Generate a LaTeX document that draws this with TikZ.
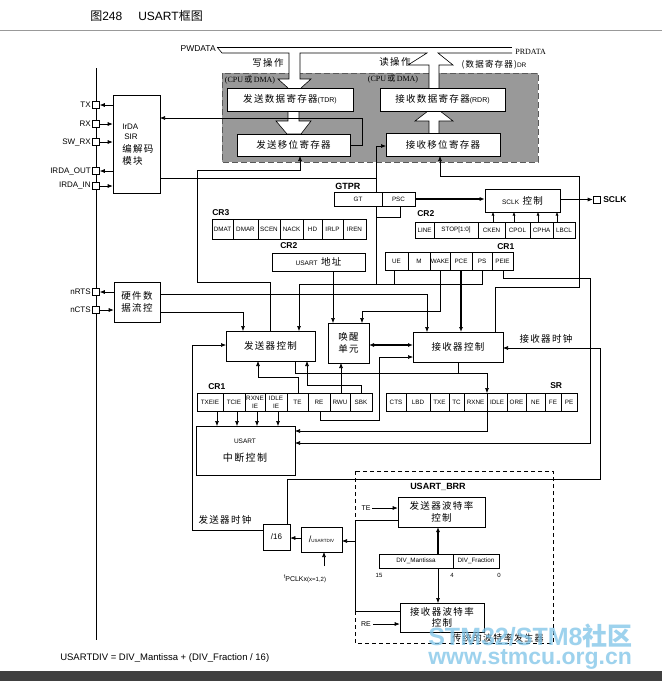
\documentclass[tikz,border=0pt]{standalone}
\usepackage{fontspec}
\setmainfont{Liberation Sans}
\newfontfamily\lat{Liberation Sans}
\newfontfamily\serf{Liberation Serif}
\newfontfamily\cjk[LetterSpace=14]{Noto Sans CJK SC}
\newfontfamily\cjkn{Noto Sans CJK SC}
\usetikzlibrary{arrows.meta}
\newcommand{\myfs}[1]{\fontsize{#1}{\fpeval{1.22*#1}}\selectfont}
\definecolor{grayfill}{gray}{0.6}
\definecolor{wmblue}{RGB}{125,195,232}
\newcommand{\regcell}[6]{\node[cell,minimum width={(#2)-(#1)},minimum height={#4}] (#5) at ({((#1)+(#2))/2},#3) {#6};}
\begin{document}
\begin{tikzpicture}[x=1pt,y=-1pt,line width=0.6pt,
  bx/.style={draw,fill=white,inner sep=0pt,align=center,font=\cjk\myfs{9.5}},
  cell/.style={draw,fill=white,inner sep=0pt,align=center,font=\lat\myfs{6.3}},
  ar/.style={-{Latex[length=5pt,width=4pt]}},
  dar/.style={{Latex[length=5pt,width=4pt]}-{Latex[length=5pt,width=4pt]}},
  sar/.style={-{Latex[length=3.5pt,width=3pt]}},
  thk/.style={line width=1.3pt},
  zh/.style={inner sep=0pt,font=\cjk\myfs{9.5}},
  en/.style={inner sep=0pt,font=\lat\myfs{8}},
  reglabel/.style={inner sep=0pt,anchor=west,font=\lat\bfseries\myfs{8.5}},
  pinsq/.style={draw,fill=white,minimum size=7pt,inner sep=0pt}]
\useasboundingbox (0,0) rectangle (662,681);
\fill[white] (0,0) rectangle (662,681);

% ---------- title ----------
\node[anchor=west,inner sep=0pt,font=\lat\myfs{12}] (title) at (90,16) {{\cjkn 图}248\hspace{16pt}USART{\cjkn 框图}};
\draw[black!40,line width=0.8pt] (0,30) -- (662,30);

% ---------- gray data register region ----------
\draw[fill=grayfill,draw=black!65,line width=0.9pt,dash pattern=on 6pt off 3pt] (222,73) rectangle (538,162);
\node[inner sep=0pt,font=\serf\myfs{8}] (cpu1) at (250,80) {(CPU\,{\cjkn 或}\,DMA)};
\node[inner sep=0pt,font=\serf\myfs{8}] (cpu2) at (393,79) {(CPU\,{\cjkn 或}\,DMA)};

% buses and hollow arrows
\fill[white] (289,72.3) -- (289,79) -- (278,79) -- (288,88) -- (301,88) -- (311,79) -- (300,79) -- (300,72.3) -- cycle;
\fill[white] (429.3,72.3) rectangle (438.7,88);
\draw (217,47) -- (512,47);
\draw (217,47) -- (222,53) -- (289,53) -- (289,79) -- (278,79) -- (288,88);
\draw (301,88) -- (311,79) -- (300,79) -- (300,53) -- (427,53) -- (408,65) -- (429,65) -- (429,88);
\draw (439,88) -- (439,65) -- (453,65) -- (438,53) -- (512,53);
\node[anchor=east,inner sep=0pt,font=\lat\myfs{8.5}] (pw) at (216,49) {PWDATA};
\node[anchor=west,inner sep=0pt,font=\serf\myfs{8}] (pr) at (515,52) {PRDATA};
\node[zh] (wop) at (268,63) {写操作};
\node[zh] (rop) at (395,62) {读操作};
\node[inner sep=0pt] (dr) at (494,65) {{\cjk\myfs{8.5}(数据寄存器)}{\lat\myfs{6.5}DR}};

\draw[fill=white] (288,111) -- (288,121) -- (276,121) -- (287,134) -- (301,134) -- (311,121) -- (299,121) -- (299,111);
\draw[fill=white] (429,133) -- (429,121) -- (415,121) -- (428,111) -- (440,111) -- (453,121) -- (439,121) -- (439,133);
\node[bx,minimum width=126,minimum height=23] (tdr) at (290,99.5) {发送数据寄存器{\lat\myfs{7}(TDR)}};
\node[bx,minimum width=125,minimum height=23] (rdr) at (442.5,99.5) {接收数据寄存器{\lat\myfs{7}(RDR)}};
\node[bx,minimum width=113,minimum height=22] (tsr) at (293.5,145) {发送移位寄存器};
\node[bx,minimum width=114,minimum height=23] (rsr) at (443,144.5) {接收移位寄存器};

% ---------- wires (drawn under boxes) ----------
\draw (96,68) -- (96,640);
\draw[ar] (350,145) -- (362,145) -- (362,118) -- (160,118);
\draw[ar] (160,178) -- (376,178) -- (376,146) -- (386,146);
\draw (376,178) -- (376,284);
\draw (400,206) -- (400,217) -- (376,217);
\draw[ar] (270,331) -- (270,282) -- (197,282) -- (197,170) -- (300,170) -- (300,156);
\draw[ar] (160,312) -- (243,312) -- (243,331);
\draw[ar] (160,294) -- (427,294) -- (427,332);
\draw[ar] (482,270) -- (482,284) -- (299,284) -- (299,331);
\draw (394,270) -- (394,284);
\draw[ar] (333,271) -- (333,323);
\draw[ar] (440,270) -- (440,311) -- (362,311) -- (362,323);
\draw[ar,thk] (461,270) -- (461,332);
\draw[ar] (495,332) -- (495,287) -- (579,287) -- (579,176) -- (440,176) -- (440,156);
\draw[ar] (503,270) -- (503,278) -- (590,278) -- (590,443) -- (295,443);
\draw[dar,thk] (369,345) -- (413,345);
\draw[ar] (320,411) -- (320,420) -- (379,420) -- (379,357) -- (413,357);
\draw[ar] (341,393) -- (341,363);
\draw[ar] (361,393) -- (361,385) -- (307,385) -- (307,361);
\draw[ar] (298,393) -- (298,377) -- (258,377) -- (258,361);
\draw[ar] (295,361) -- (295,373) -- (487,373) -- (487,393);
\draw (458,362) -- (458,373);
\draw[ar] (487,411) -- (487,431) -- (295,431);
\foreach \xx in {217,237,257,278} \draw[ar] (\xx,411) -- (\xx,426);
\draw[ar] (263,530) -- (192,530) -- (192,345) -- (226,345);
\draw[ar] (287,524) -- (287,479) -- (600,479) -- (600,348) -- (503,348);

% ---------- IrDA block and pins ----------
\node[draw,fill=white,inner sep=0pt,minimum width=47,minimum height=98] (irda) at (136.5,144) {};
\node[anchor=west,inner sep=0pt,font=\lat\myfs{8}] (irda1) at (122,127) {IrDA};
\node[anchor=west,inner sep=0pt,font=\lat\myfs{8}] (irda2) at (124,137) {SIR};
\node[zh,anchor=west] (irda3) at (122,149) {编解码};
\node[zh,anchor=west] (irda4) at (122,161) {模块};
\node[bx,minimum width=46,minimum height=40] (flow) at (137,302) {硬件数\\据流控};
\foreach \nm/\yy/\tx in {ptx/105/TX, prx/124/RX, psw/142/SW\_RX, pout/171/IRDA\_OUT, pinn/186/IRDA\_IN, prts/292/nRTS, pcts/310/nCTS} {
  \node[pinsq] (\nm) at (96,\yy) {};
  \node[en,anchor=east] (\nm l) at (91,\yy) {\tx};
}
\draw[ar] (irda.west |- ptx) -- (ptx.east);
\draw[ar] (prx.east) -- (irda.west |- prx);
\draw[ar] (psw.east) -- (irda.west |- psw);
\draw[ar] (irda.west |- pout) -- (pout.east);
\draw[ar] (pinn.east) -- (irda.west |- pinn);
\draw[ar] (flow.west |- prts) -- (prts.east);
\draw[ar] (pcts.east) -- (flow.west |- pcts);

% ---------- GTPR / SCLK ----------
\node[reglabel,font=\lat\bfseries\myfs{9}] (gtprl) at (335,186) {GTPR};
\regcell{334}{382}{199}{14}{gt}{GT}
\regcell{382}{415}{199}{14}{psc}{PSC}
\node[bx,minimum width=75,minimum height=23] (sclk) at (522.5,200.5) {{\lat\myfs{6.5}SCLK} 控制};
\node[pinsq] (psclk) at (596.5,199.5) {};
\node[anchor=west,inner sep=0pt,font=\lat\bfseries\myfs{8.5}] (sclkl) at (603,200) {SCLK};
\draw[ar,thk] (psc.east) -- (sclk.west |- psc.east);
\draw[ar] (sclk.east |- psclk) -- (psclk.west);

% CR2 (clock)
\node[reglabel] (cr2al) at (417,214) {CR2};
\regcell{415}{434}{230}{16}{line}{LINE}
\regcell{434}{478}{230}{16}{stop}{STOP[1:0]}
\regcell{478}{505}{230}{16}{cken}{CKEN}
\regcell{505}{530}{230}{16}{cpol}{CPOL}
\regcell{530}{553}{230}{16}{cpha}{CPHA}
\regcell{553}{575}{230}{16}{lbcl}{LBCL}
\foreach \xx in {493,514,538,557} \draw[sar] (\xx,222) -- (\xx,212);

% CR3
\node[reglabel] (cr3l) at (212,213) {CR3};
\regcell{212}{233}{229}{20}{dmat}{DMAT}
\regcell{233}{258}{229}{20}{dmar}{DMAR}
\regcell{258}{280}{229}{20}{scen}{SCEN}
\regcell{280}{303}{229}{20}{nack}{NACK}
\regcell{303}{322}{229}{20}{hd}{HD}
\regcell{322}{343}{229}{20}{irlp}{IRLP}
\regcell{343}{366}{229}{20}{iren}{IREN}

% CR2 address
\node[reglabel] (cr2bl) at (280,246) {CR2};
\node[bx,minimum width=93,minimum height=18] (addr) at (318.5,262) {{\lat\myfs{6.5}USART} 地址};

% CR1 upper
\node[reglabel] (cr1al) at (497,247) {CR1};
\regcell{385}{408}{261}{18}{ue}{UE}
\regcell{408}{430}{261}{18}{mm}{M}
\regcell{430}{450}{261}{18}{wakebit}{WAKE}
\regcell{450}{472}{261}{18}{pce}{PCE}
\regcell{472}{492}{261}{18}{ps}{PS}
\regcell{492}{513}{261}{18}{peie}{PEIE}

% control blocks
\node[bx,minimum width=89,minimum height=30] (txc) at (270.5,346) {发送器控制};
\node[bx,minimum width=41,minimum height=40] (wake) at (348.5,343) {唤醒\\单元};
\node[bx,minimum width=90,minimum height=30] (rxc) at (458,347) {接收器控制};
\node[zh] (rxclk) at (546,339) {接收器时钟};

% CR1 lower
\node[reglabel] (cr1bl) at (208,387) {CR1};
\regcell{197}{223}{402}{18}{txeie}{TXEIE}
\regcell{223}{245}{402}{18}{tcie}{TCIE}
\regcell{245}{265}{402}{18}{rxneie}{RXNE\\IE}
\regcell{265}{287}{402}{18}{idleie}{IDLE\\IE}
\regcell{287}{308}{402}{18}{te}{TE}
\regcell{308}{330}{402}{18}{re}{RE}
\regcell{330}{350}{402}{18}{rwu}{RWU}
\regcell{350}{372}{402}{18}{sbk}{SBK}

% SR
\node[reglabel] (srl) at (550,386) {SR};
\regcell{386}{406}{402}{18}{cts}{CTS}
\regcell{406}{430}{402}{18}{lbd}{LBD}
\regcell{430}{449}{402}{18}{txe}{TXE}
\regcell{449}{464}{402}{18}{tc}{TC}
\regcell{464}{487}{402}{18}{rxne}{RXNE}
\regcell{487}{507}{402}{18}{idle}{IDLE}
\regcell{507}{526}{402}{18}{ore}{ORE}
\regcell{526}{545}{402}{18}{ne}{NE}
\regcell{545}{561}{402}{18}{fe}{FE}
\regcell{561}{577}{402}{18}{pe}{PE}

% interrupt control
\node[draw,fill=white,inner sep=0pt,minimum width=99,minimum height=49] (intr) at (245.5,451) {};
\node[inner sep=0pt,font=\lat\myfs{6.5}] (intr1) at (245,441) {USART};
\node[zh,font=\cjk\myfs{10}] (intr2) at (245,458) {中断控制};

% clocks and dividers
\node[zh] (txclk) at (225,520) {发送器时钟};
\node[draw,fill=white,inner sep=0pt,minimum width=27,minimum height=26,font=\lat\myfs{8}] (div16) at (276.5,537) {/16};
\node[draw,fill=white,inner sep=0pt,minimum width=41,minimum height=25] (udiv) at (321.5,539.5) {{\lat\myfs{9}/}{\lat\myfs{4.5}USARTDIV}};
\node[inner sep=0pt] (fpclk) at (305,579) {{\lat\myfs{5}\raisebox{3pt}{f}}{\lat\myfs{7}PCLKx}{\lat\myfs{6}(x=1,2)}};
\draw[ar] (udiv.west |- 0,538) -- (div16.east |- 0,538);
\draw[ar] (324,566) -- (324,552);

% USART_BRR
\draw[line width=0.7pt,dash pattern=on 4pt off 3pt] (355,471) rectangle (553,643);
\node[inner sep=0pt,font=\lat\bfseries\myfs{9}] (brrl) at (438,487) {USART\_BRR};
\node[bx,minimum width=87,minimum height=30] (txbr) at (441.5,512) {发送器波特率\\控制};
\node[bx,minimum width=84,minimum height=29] (rxbr) at (442,617.5) {接收器波特率\\控制};
\regcell{379}{453}{561}{14}{mant}{DIV\_Mantissa}
\regcell{453}{499}{561}{14}{frac}{DIV\_Fraction}
\node[inner sep=0pt,font=\lat\myfs{6}] (b15) at (379,575) {15};
\node[inner sep=0pt,font=\lat\myfs{6}] (b4) at (452,575) {4};
\node[inner sep=0pt,font=\lat\myfs{6}] (b0) at (499,575) {0};
\node[inner sep=0pt,font=\lat\myfs{7}] (tel) at (366,508) {TE};
\node[inner sep=0pt,font=\lat\myfs{7}] (rel) at (366,624) {RE};
\draw[ar] (372,508) -- (txbr.west |- tel);
\draw[ar] (373,624) -- (rxbr.west |- rel);
\draw[ar,thk] (438,554) -- (438,527);
\draw[ar] (438,568) -- (438,603);
\draw[ar] (398,520) -- (355,520) -- (355,541) -- (342,541);
\draw (400,611) -- (355,611) -- (355,541);
\node[zh,font=\cjk\myfs{9}] (trad) at (498,638) {传统的波特率发生器};

% formula
\node[anchor=west,inner sep=0pt,font=\lat\myfs{9.5}] (formula) at (60,658) {USARTDIV = DIV\_Mantissa + (DIV\_Fraction / 16)};

% bottom band and watermark
\fill[black!75] (0,671) rectangle (662,681);
\node[anchor=west,inner sep=0pt,text=wmblue,opacity=0.75,font=\lat\bfseries\myfs{25}] (wm1) at (428,636) {STM32/STM8{\cjkn\bfseries 社区}};
\node[anchor=west,inner sep=0pt,text=wmblue,opacity=0.75,font=\lat\bfseries\myfs{23}] (wm2) at (428,659) {www.stmcu.org.cn};
\end{tikzpicture}
\end{document}
